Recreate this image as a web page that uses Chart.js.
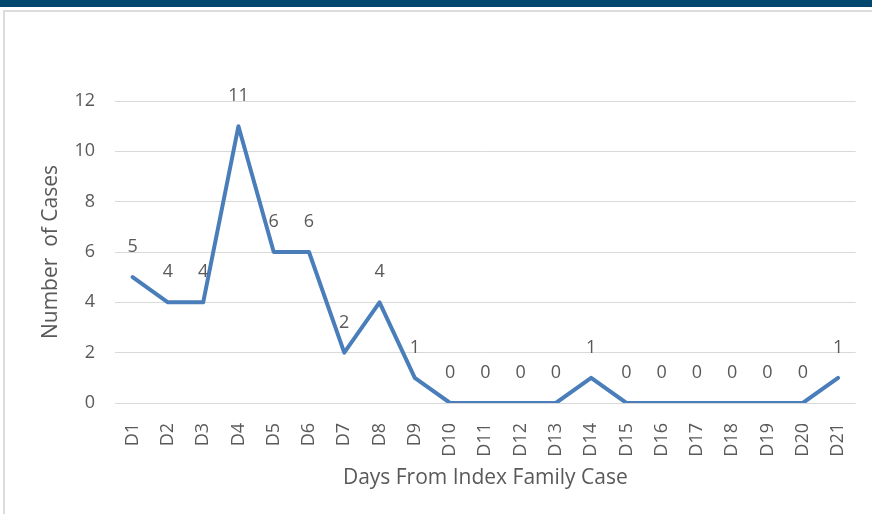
<!DOCTYPE html>
<html>
<head>
<meta charset="utf-8">
<script src="https://cdn.jsdelivr.net/npm/chart.js@4.4.0/dist/chart.umd.min.js"></script>
<style>
  body { margin: 0; background: #fff; width: 872px; height: 514px; overflow: hidden; position: relative; }
  .topbar { position: absolute; left: 0; top: 0; width: 872px; height: 7px; background: #02476e; }
  .frame { position: absolute; left: 3px; top: 10px; width: 900px; height: 520px; border-left: 2px solid #dcdcdc; border-top: 2px solid #dcdcdc; }
  #wrap { position: absolute; left: 0; top: 0; width: 872px; height: 514px; }
</style>
</head>
<body>
<div class="topbar"></div>
<div class="frame"></div>
<div id="wrap"><canvas id="myChart" width="872" height="514"></canvas></div>
<script>
const days = ["D1","D2","D3","D4","D5","D6","D7","D8","D9","D10","D11","D12","D13","D14","D15","D16","D17","D18","D19","D20","D21"];
const cases = [5,4,4,11,6,6,2,4,1,0,0,0,0,1,0,0,0,0,0,0,1];
const yTicks = [0,2,4,6,8,10,12];

const textColor = `#595959`;
const fontName = `"Open Sans", sans-serif`;

// draws the value over each point, like excel's "above" labels
const valueLabels = {
  id: `valueLabels`,
  afterDatasetsDraw(chart) {
    const ctx = chart.ctx;
    const meta = chart.getDatasetMeta(0);
    ctx.save();
    ctx.fillStyle = textColor;
    ctx.font = `18px ${fontName}`;
    ctx.textAlign = `center`;
    ctx.textBaseline = `middle`;
    meta.data.forEach((pt, i) => {
      ctx.fillText(String(cases[i]), pt.x, pt.y - 30);
    });
    ctx.restore();
  }
};

const ctx = document.querySelector(`#myChart`).getContext(`2d`);
const chart = new Chart(ctx, {
  type: `line`,
  data: {
    labels: days,
    datasets: [{
      label: `cases`,
      data: cases,
      borderColor: `#4a7ebb`,
      borderWidth: 4,
      borderJoinStyle: `round`,
      borderCapStyle: `round`,
      pointRadius: 0,
      tension: 0,
      fill: false
    }]
  },
  options: {
    responsive: false,
    animation: false,
    devicePixelRatio: 1,
    layout: { padding: { top: 101, right: 15, bottom: 11, left: 0 } },
    plugins: { legend: { display: false }, tooltip: { enabled: false } },
    scales: {
      x: {
        offset: true,
        grid: { display: false },
        border: { display: false },
        ticks: {
          color: textColor,
          font: { family: fontName, size: 18 },
          minRotation: 90,
          maxRotation: 90,
          padding: 12,
          autoSkip: false
        },
        title: {
          display: true,
          text: `Days From Index Family Case`,
          color: textColor,
          font: { family: fontName, size: 21 },
          padding: { top: 0, bottom: 12 }
        },
        afterFit: (s) => { s.height = 100; }
      },
      y: {
        min: 0,
        max: 12,
        afterBuildTicks: (s) => { s.ticks = yTicks.map(v => ({ value: v })); },
        grid: { color: `#d9d9d9`, lineWidth: 1, drawTicks: false },
        border: { display: false },
        ticks: {
          color: textColor,
          font: { family: fontName, size: 18 },
          padding: 20
        },
        title: {
          display: true,
          text: `Number  of Cases`,
          color: textColor,
          font: { family: fontName, size: 21 },
          padding: { top: 38, bottom: 0 }
        },
        afterFit: (s) => { s.width = 115; }
      }
    }
  },
  plugins: [valueLabels]
});
</script>
</body>
</html>
